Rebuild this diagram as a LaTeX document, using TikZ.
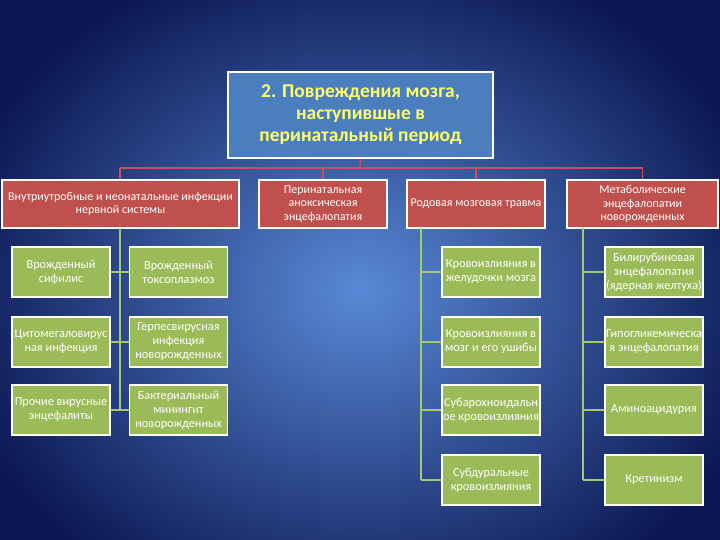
\documentclass[tikz,border=0pt]{standalone}
\usepackage{fontspec}
\setmainfont{Carlito}
\definecolor{redbox}{HTML}{C0504D}
\definecolor{greenbox}{HTML}{9BBB59}
\definecolor{titlebox}{HTML}{4A7EBF}
\definecolor{titletext}{HTML}{FFFF66}
\definecolor{bgin}{HTML}{5989D6}
\definecolor{bgout}{HTML}{0B1752}
\definecolor{redline}{HTML}{C9505E}
\definecolor{greenline}{HTML}{A8C870}
\begin{document}
\begin{tikzpicture}[x=1pt,y=-1pt,
  rbox/.style={draw=white, line width=1.6pt, fill=redbox, text=white, align=center,
    font=\fontsize{12}{13.5}\selectfont, minimum height=48pt, inner sep=1pt},
  gbox/.style={draw=white, line width=1.6pt, fill=greenbox, text=white, align=center,
    font=\fontsize{12.3}{14}\selectfont, minimum width=98pt, minimum height=50pt,
    inner sep=0pt},
  tbox/.style={draw=white, line width=1.6pt, fill=titlebox, text=titletext, align=center,
    font=\fontsize{19.5}{22}\selectfont\bfseries, minimum width=265pt, minimum height=86pt},
  rline/.style={draw=redline, line width=1.6pt},
  gline/.style={draw=greenline, line width=1.6pt}
]
\useasboundingbox (0,0) rectangle (720,540);
\shade[inner color=bgin, outer color=bgout, shading=radial] (-60,-60) rectangle (780,640);

% title
\node[tbox] (title) at (360.5,115) {2. Повреждения мозга,\\наступившые в\\перинатальный период};

% red boxes
\node[rbox, minimum width=237pt] (r1) at (120.5,204) {Внутриутробные и неонатальные инфекции\\нервной системы};
\node[rbox, minimum width=128pt] (r2) at (323,204) {Перинатальная\\аноксическая\\энцефалопатия};
\node[rbox, minimum width=138pt] (r3) at (476,204) {Родовая мозговая травма};
\node[rbox, minimum width=151pt] (r4) at (642.5,204) {Метаболические\\энцефалопатии\\новорожденных};

% red connectors
\coordinate (hub) at (360,168);
\coordinate (h1) at (120,168);
\coordinate (h2) at (323,168);
\coordinate (h3) at (476,168);
\coordinate (h4) at (642.5,168);
\draw[rline] (title.south) -- (hub);
\draw[rline] (h1) -- (h4);
\draw[rline] (h1) -- (h1 |- r1.north);
\draw[rline] (h2) -- (h2 |- r2.north);
\draw[rline] (h3) -- (h3 |- r3.north);
\draw[rline] (h4) -- (h4 |- r4.north);

% green boxes column 1
\node[gbox] (a1) at (61,272) {Врожденный\\сифилис};
\node[gbox] (a2) at (61,342) {Цитомегаловирус\\ная инфекция};
\node[gbox] (a3) at (61,410) {Прочие вирусные\\энцефалиты};
\node[gbox] (b1) at (178.5,272) {Врожденный\\токсоплазмоз};
\node[gbox] (b2) at (178.5,342) {Герпесвирусная\\инфекция\\новорожденных};
\node[gbox] (b3) at (178.5,410) {Бактериальный\\минингит\\новорожденных};

% green boxes column 3
\node[gbox] (c1) at (491,272) {Кровоизлияния в\\желудочки мозга};
\node[gbox] (c2) at (491,342) {Кровоизлияния в\\мозг и его ушибы};
\node[gbox] (c3) at (491,410) {Субарохноидальн\\ое кровоизлияния};
\node[gbox] (c4) at (491,480) {Субдуральные\\кровоизлияния};

% green boxes column 4
\node[gbox] (d1) at (654,272) {Билирубиновая\\энцефалопатия\\(ядерная желтуха)};
\node[gbox] (d2) at (654,342) {Гипогликемическа\\я энцефалопатия};
\node[gbox] (d3) at (654,410) {Аминоацидурия};
\node[gbox] (d4) at (654,480) {Кретинизм};

% green connectors column 1
\coordinate (va) at (120,228.5);
\coordinate (vab) at (120,410);
\draw[gline] (va) -- (vab);
\draw[gline] (a1.east) -- (b1.west);
\draw[gline] (a2.east) -- (b2.west);
\draw[gline] (a3.east) -- (b3.west);

% green connectors column 3
\coordinate (vc) at (421,228.5);
\coordinate (vcb) at (421,480);
\draw[gline] (vc) -- (vcb);
\draw[gline] (vc |- c1.west) -- (c1.west);
\draw[gline] (vc |- c2.west) -- (c2.west);
\draw[gline] (vc |- c3.west) -- (c3.west);
\draw[gline] (vcb) -- (c4.west);

% green connectors column 4
\coordinate (vd) at (583,228.5);
\coordinate (vdb) at (583,480);
\draw[gline] (vd) -- (vdb);
\draw[gline] (vd |- d1.west) -- (d1.west);
\draw[gline] (vd |- d2.west) -- (d2.west);
\draw[gline] (vd |- d3.west) -- (d3.west);
\draw[gline] (vdb) -- (d4.west);
\end{tikzpicture}
\end{document}
